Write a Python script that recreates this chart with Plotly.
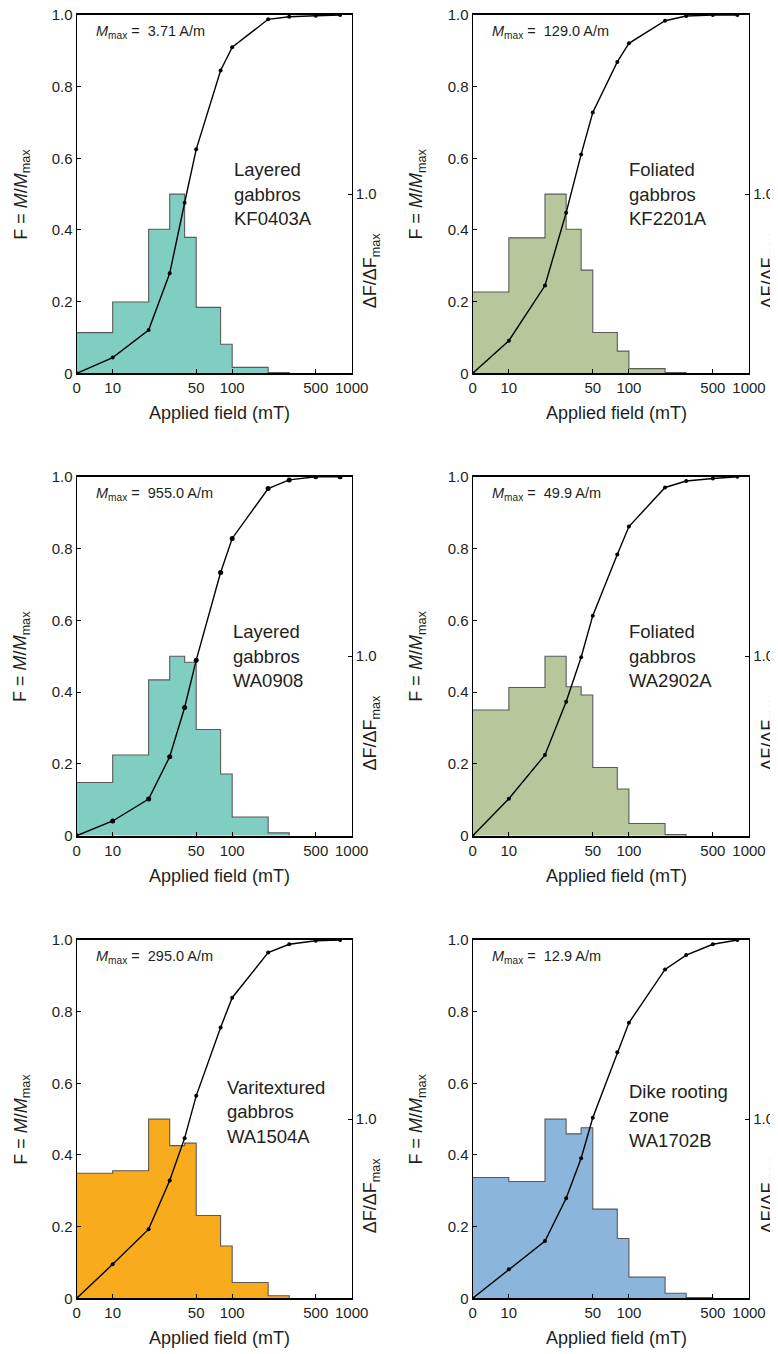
import math
import plotly.graph_objects as go

# ---------------- data ----------------
fields = [0, 10, 20, 30, 40, 50, 80, 100, 200, 300, 500, 800]          # mT, AF demag steps
bin_edges = [0, 10, 20, 30, 40, 50, 80, 100, 200, 300, 500]            # mT

labels = [
    ["Layered", "gabbros", "KF0403A"],
    ["Foliated", "gabbros", "KF2201A"],
    ["Layered", "gabbros", "WA0908"],
    ["Foliated", "gabbros", "WA2902A"],
    ["Varitextured", "gabbros", "WA1504A"],
    ["Dike rooting", "zone", "WA1702B"],
]
mmax = ["3.71", "129.0", "955.0", "49.9", "295.0", "12.9"]

F_kf0403a = [0, 0.044, 0.121, 0.279, 0.476, 0.625, 0.845, 0.910, 0.988, 0.995, 0.998, 1.0]
F_kf2201a = [0, 0.091, 0.245, 0.448, 0.611, 0.728, 0.869, 0.921, 0.984, 0.997, 1.0, 1.0]
F_wa0908 = [0, 0.041, 0.102, 0.220, 0.357, 0.489, 0.733, 0.828, 0.967, 0.991, 1.0, 1.0]
F_wa2902a = [0, 0.103, 0.225, 0.373, 0.497, 0.613, 0.783, 0.861, 0.970, 0.988, 0.995, 1.0]
F_wa1504a = [0, 0.095, 0.193, 0.329, 0.447, 0.565, 0.756, 0.839, 0.965, 0.988, 0.998, 1.0]
F_wa1702b = [0, 0.081, 0.160, 0.279, 0.391, 0.504, 0.687, 0.769, 0.918, 0.958, 0.988, 1.0]

# dF/dFmax per bin
dF_kf0403a = [0.227, 0.398, 0.804, 1.0, 0.759, 0.368, 0.162, 0.033, 0.004]
dF_kf2201a = [0.454, 0.756, 1.0, 0.804, 0.576, 0.228, 0.124, 0.026, 0.004]
dF_wa0908 = [0.296, 0.450, 0.868, 1.0, 0.966, 0.592, 0.344, 0.104, 0.016]
dF_wa2902a = [0.700, 0.826, 1.0, 0.830, 0.784, 0.380, 0.260, 0.068, 0.006]
dF_wa1504a = [0.698, 0.712, 1.0, 0.852, 0.866, 0.462, 0.292, 0.088, 0.014]
dF_wa1702b = [0.674, 0.652, 1.0, 0.918, 0.952, 0.498, 0.334, 0.118, 0.028, 0.004]

F_all = [F_kf0403a, F_kf2201a, F_wa0908, F_wa2902a, F_wa1504a, F_wa1702b]
dF_all = [dF_kf0403a, dF_kf2201a, dF_wa0908, dF_wa2902a, dF_wa1504a, dF_wa1702b]

colors = ["#80CDC1", "#B7C79B", "#80CDC1", "#B7C79B", "#F8AB1C", "#8BB5DB"]
marker_sizes = [4, 4, 5, 4, 4, 4]
label_x = [0.565, 0.56, 0.56, 0.56, 0.54, 0.56]
label_y = [0.5, 0.5, 0.5, 0.5, 0.52, 0.51]

x_tick_vals = [0, 10, 50, 100, 500, 1000]
x_tick_text = ["0", "10", "50", "100", "500", "1000"]
ZERO_POS = 5  # where the "0" field is placed on the log axis
XMAX = 1000

# ---------------- layout geometry ----------------
PAGE_OFF = 8            # default body margin of the html page
W, H = 778 - PAGE_OFF, 1354 - PAGE_OFF
col_px = [(76.7, 351.7), (472.7, 749.0)]                  # page pixels
row_px = [(15.0, 373.3), (476.7, 835.7), (940.0, 1298.3)]

FONT = "Liberation Sans, Arial, Helvetica, sans-serif"
TXT = "#231f20"
TICK_FS = 15

def pos(v):
    return ZERO_POS if v == 0 else v

fig = go.Figure()
layout = dict(
    width=W, height=H, margin=dict(l=0, r=0, t=0, b=0, autoexpand=False),
    paper_bgcolor="white", plot_bgcolor="white", showlegend=False,
    font=dict(family=FONT, size=TICK_FS, color=TXT),
)
annotations = []

for i in range(6):
    n = i + 1
    r, c = divmod(i, 2)
    x0, x1 = (v - PAGE_OFF for v in col_px[c])
    ytop, ybot = (v - PAGE_OFF for v in row_px[r])
    xdom = [x0 / W, x1 / W]
    ydom = [1 - ybot / H, 1 - ytop / H]
    xa = f"x{n}" if n > 1 else "x"
    yb = f"y{n}" if n > 1 else "y"     # base axis: dF/dFmax (right)
    yt = f"y{n + 6}"                   # overlay axis: F (left)

    heights = dF_all[i]
    nb = len(heights)
    sx = [pos(e) for e in bin_edges[:nb]] + [bin_edges[nb]]
    sy = list(heights) + [0]
    fig.add_trace(go.Scatter(
        x=sx, y=sy, xaxis=xa, yaxis=yb, mode="lines", line_shape="hv",
        line=dict(color="#5a5a5a", width=1.1), fill="tozeroy", fillcolor=colors[i],
        hoverinfo="skip"))
    fig.add_trace(go.Scatter(
        x=[pos(f) for f in fields], y=F_all[i], xaxis=xa, yaxis=yt,
        mode="lines+markers", line=dict(color="black", width=1.4),
        marker=dict(color="black", size=marker_sizes[i])))

    xkey = "xaxis" if n == 1 else f"xaxis{n}"
    ykey = "yaxis" if n == 1 else f"yaxis{n}"
    layout[xkey] = dict(
        domain=xdom, anchor=yb, type="log", automargin=False,
        range=[math.log10(ZERO_POS), math.log10(XMAX)],
        tickvals=[pos(v) for v in x_tick_vals], ticktext=x_tick_text,
        ticks="inside", ticklen=4, tickwidth=1, tickcolor="black",
        showline=True, linecolor="black", linewidth=1.8, mirror=True,
        showgrid=False, zeroline=False, tickfont=dict(size=TICK_FS, color=TXT),
        ticklabeloverflow="allow",
    )
    layout[ykey] = dict(
        domain=ydom, anchor=xa, side="right", range=[0, 2], automargin=False,
        tickvals=[1], ticktext=["1.0"], ticks="inside", ticklen=4,
        tickcolor="black", showline=True, linecolor="black", linewidth=1.3,
        showgrid=False, zeroline=False, tickfont=dict(size=TICK_FS, color=TXT),
        ticklabeloverflow="allow",
    )
    layout[f"yaxis{n + 6}"] = dict(
        overlaying=yb, anchor=xa, side="left", range=[0, 1], automargin=False,
        tickvals=[0, 0.2, 0.4, 0.6, 0.8, 1.0],
        ticktext=["0", "0.2", "0.4", "0.6", "0.8", "1.0"],
        ticks="inside", ticklen=4, tickcolor="black",
        showline=True, linecolor="black", linewidth=1.3,
        showgrid=False, zeroline=False, tickfont=dict(size=TICK_FS, color=TXT),
        ticklabeloverflow="allow",
    )

    xd = f"{xa} domain"
    yd = f"{yb} domain"
    # M_max
    annotations.append(dict(
        xref=xd, yref=yd, x=0.062, y=0.953, xanchor="left", yanchor="middle",
        text=f"<i>M</i><sub>max</sub> =  {mmax[i]} A/m", showarrow=False,
        font=dict(size=14.5, color=TXT)))
    # sample labels (three lines)
    for k, line in enumerate(labels[i]):
        annotations.append(dict(
            xref=xd, yref=yd, x=label_x[i], y=label_y[i] + (1 - k) * 24.5 / 358.3,
            xanchor="left", yanchor="middle", text=line, showarrow=False,
            font=dict(size=18.5, color=TXT)))
    # axis titles
    annotations.append(dict(
        xref=xd, yref=yd, x=0.52, y=-0.112, xanchor="center", yanchor="middle",
        text="Applied field (mT)", showarrow=False, font=dict(size=18, color=TXT)))
    annotations.append(dict(
        xref=xd, yref=yd, x=-0.2, y=0.5, xanchor="center", yanchor="middle",
        textangle=-90, text="F = <i>M</i>/<i>M</i><sub>max</sub>", showarrow=False,
        font=dict(size=18, color=TXT)))
    annotations.append(dict(
        xref=xd, yref=yd, x=1.073, y=0.287, xanchor="center", yanchor="middle",
        textangle=-90, text="ΔF/ΔF<sub>max</sub>", showarrow=False,
        font=dict(size=18, color=TXT)))

layout["annotations"] = annotations
fig.update_layout(**layout)
fig.write_html("out.html")
